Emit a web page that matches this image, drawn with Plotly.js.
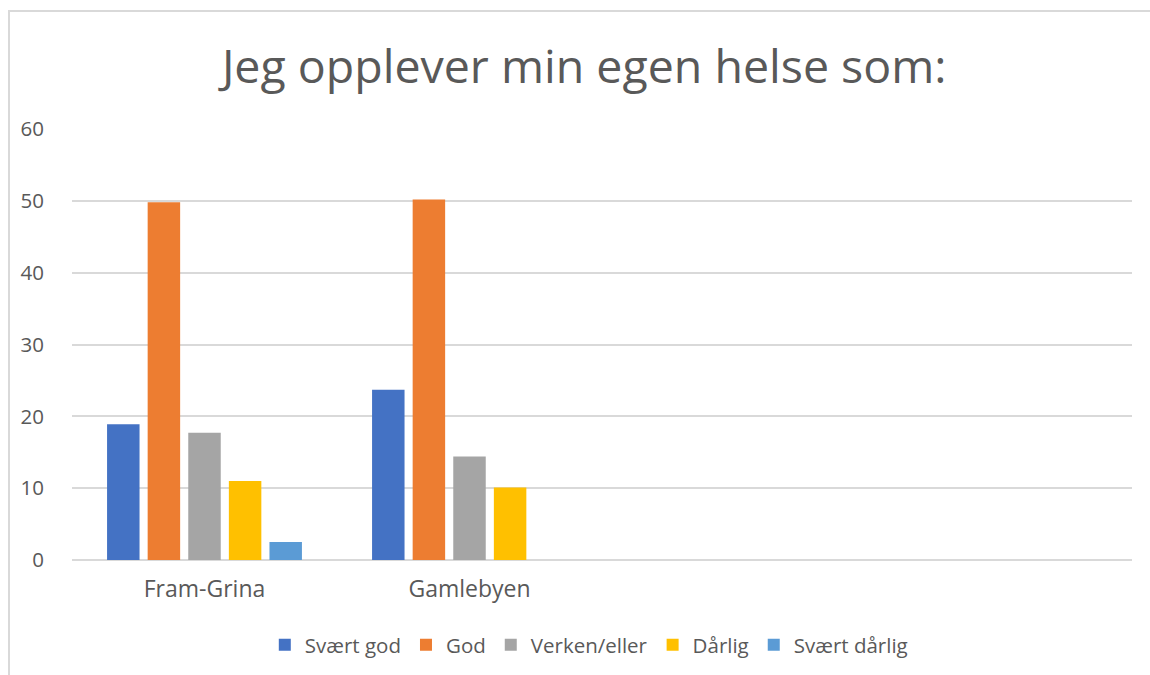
<!DOCTYPE html>
<html><head><meta charset="utf-8">
<script src="https://cdn.plot.ly/plotly-3.0.1.min.js"></script>
<style>
html,body{margin:0;padding:0;background:#fff;}
#frame{position:absolute;left:8px;top:10px;width:1142px;height:665px;border-left:2px solid #d9d9d9;border-top:2px solid #d9d9d9;pointer-events:none;z-index:2;}
#chart{position:absolute;left:0;top:0;width:1150px;height:675px;}
</style></head>
<body>
<div id="chart"></div><div id="frame"></div>
<script>
const categories = ["Fram-Grina", "Gamlebyen"];
const seriesNames = ["Svært god", "God", "Verken/eller", "Dårlig", "Svært dårlig"];
const svaertGod = [18.9, 23.7];
const god = [49.8, 50.2];
const verkenEller = [17.7, 14.4];
const darlig = [11.0, 10.1];
const svaertDarlig = [2.5, null];
const colors = ["#4472c4", "#ed7d31", "#a5a5a5", "#ffc000", "#5b9bd5"];
const values = [svaertGod, god, verkenEller, darlig, svaertDarlig];

const traces = seriesNames.map((n, i) => ({
  type: 'bar', name: n, x: categories, y: values[i],
  marker: {color: colors[i]}, hoverinfo: 'x+y+name'
}));

const layout = {
  width: 1150, height: 675,
  margin: {l: 72, r: 18, t: 129, b: 115},
  paper_bgcolor: '#fff', plot_bgcolor: '#fff',
  font: {family: 'Open Sans, sans-serif', color: '#595959'},
  title: {text: 'Jeg opplever min egen helse som:', font: {size: 46.5, color: '#595959', family: 'Open Sans, sans-serif'},
          x: 0.508, xanchor: 'center', xref: 'container', y: 1 - 67/675, yanchor: 'middle', yref: 'container'},
  barmode: 'group', bargap: 0.234, bargroupgap: 0.2,
  xaxis: {type: 'category', range: [-0.5, 3.5], showgrid: false, zeroline: false, showline: false,
          ticks: 'outside', ticklen: 8, tickcolor: 'rgba(0,0,0,0)', tickfont: {size: 23, color: '#595959'}, fixedrange: true},
  yaxis: {range: [0, 60], dtick: 10, showgrid: true, gridcolor: '#d9d9d9', gridwidth: 1.5,
          zeroline: true, zerolinecolor: '#d9d9d9', zerolinewidth: 1.5, showline: false,
          ticks: 'outside', ticklen: 23, tickcolor: 'rgba(0,0,0,0)', tickfont: {size: 20.5, color: '#595959'}, fixedrange: true},
  legend: {orientation: 'h', xref: 'container', x: 0.512, xanchor: 'center', yref: 'container', y: 1 - 645/675, yanchor: 'middle',
           font: {size: 20.5, color: '#595959'}, itemwidth: 30, tracegroupgap: 0},
  showlegend: true
};
Plotly.newPlot('chart', traces, layout, {displayModeBar: false, staticPlot: false});
</script>
</body></html>
